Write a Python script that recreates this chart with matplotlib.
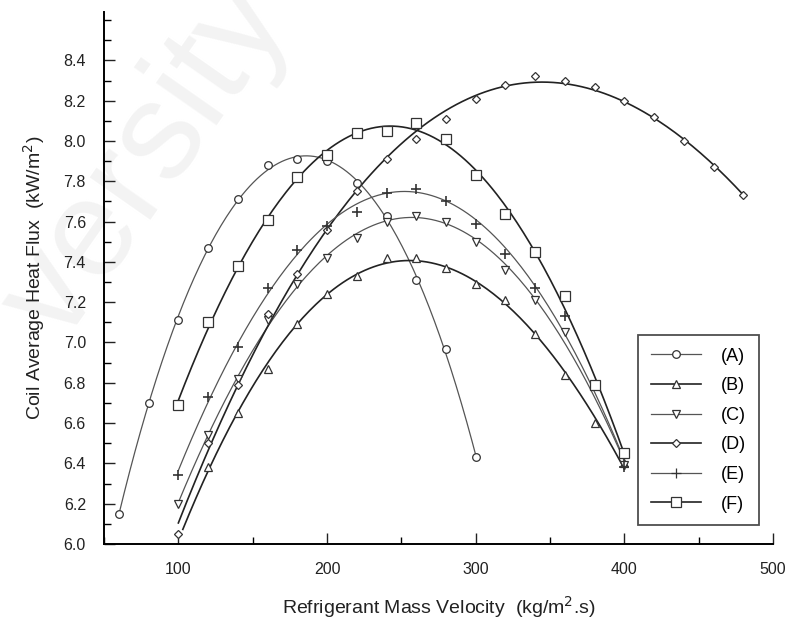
import numpy as np
import matplotlib
matplotlib.use("Agg")
import matplotlib.pyplot as plt
from matplotlib.lines import Line2D
from matplotlib.ticker import MultipleLocator

plt.rcParams['font.family'] = ['Liberation Sans', 'DejaVu Sans']

# data (kg/m2.s vs kW/m2)
a_x = [60, 80, 100, 120, 140, 160, 180, 200, 220, 240, 260, 280, 300]
a_y = [6.15, 6.70, 7.11, 7.47, 7.71, 7.88, 7.91, 7.90, 7.79, 7.63, 7.31, 6.97, 6.43]

b_x = [120, 140, 160, 180, 200, 220, 240, 260, 280, 300, 320, 340, 360, 380, 400]
b_y = [6.38, 6.65, 6.87, 7.09, 7.24, 7.33, 7.42, 7.42, 7.37, 7.29, 7.21, 7.04, 6.84, 6.60, 6.40]

c_x = [100, 120, 140, 160, 180, 200, 220, 240, 260, 280, 300, 320, 340, 360, 400]
c_y = [6.20, 6.54, 6.82, 7.11, 7.29, 7.42, 7.52, 7.60, 7.63, 7.60, 7.50, 7.36, 7.21, 7.05, 6.39]

d_x = [100, 120, 140, 160, 180, 200, 220, 240, 260, 280, 300, 320, 340, 360, 380, 400, 420, 440, 460, 480]
d_y = [6.05, 6.50, 6.79, 7.14, 7.34, 7.56, 7.75, 7.91, 8.01, 8.11, 8.21, 8.28, 8.32, 8.30, 8.27, 8.20, 8.12, 8.00, 7.87, 7.73]

e_x = [100, 120, 140, 160, 180, 200, 220, 240, 260, 280, 300, 320, 340, 360, 400]
e_y = [6.34, 6.73, 6.98, 7.27, 7.46, 7.58, 7.65, 7.74, 7.76, 7.70, 7.59, 7.44, 7.27, 7.13, 6.38]

f_x = [100, 120, 140, 160, 180, 200, 220, 240, 260, 280, 300, 320, 340, 360, 380, 400]
f_y = [6.69, 7.10, 7.38, 7.61, 7.82, 7.93, 8.04, 8.05, 8.09, 8.01, 7.83, 7.64, 7.45, 7.23, 6.79, 6.45]

labels = ['(A)', '(B)', '(C)', '(D)', '(E)', '(F)']

series = [
    # x, y, marker, size, line colour, line width, fit degree, line start
    (a_x, a_y, 'o', 5.5, '#555555', 0.9, 4, 60),
    (b_x, b_y, '^', 6, '#222222', 1.2, 3, 103),
    (c_x, c_y, 'v', 6, '#555555', 0.9, 3, 100),
    (d_x, d_y, 'D', 4, '#222222', 1.2, 3, 100),
    (e_x, e_y, '+', 7, '#555555', 0.9, 3, 100),
    (f_x, f_y, 's', 6.5, '#222222', 1.2, 3, 100),
]

fig = plt.figure(figsize=(7.97, 6.22), dpi=100)
ax = fig.add_axes([0.1305, 0.1254, 0.8395, 0.8553])
ax.patch.set_alpha(0)
ax.set_zorder(1)

# faint watermark in the reference, kept behind the axes
fig.text(0.185, 0.74, 'versity', fontsize=100, rotation=55, color='#f3f3f3',
         ha='center', va='center', zorder=-5)

handles = []
for (xs, ys, mk, ms, col, lw, deg, x0), lab in zip(series, labels):
    # smooth fitted curve like the original figure
    coef = np.polyfit(xs, ys, deg)
    xx = np.linspace(x0, max(xs), 200)
    ax.plot(xx, np.polyval(coef, xx), color=col, lw=lw, zorder=2)
    mfc = 'none' if mk == '+' else 'white'
    ax.plot(xs, ys, linestyle='none', marker=mk, ms=ms, mfc=mfc,
            mec='#333333', mew=0.9 if mk != '+' else 1.2, zorder=3)
    handles.append(Line2D([], [], color=col, lw=lw, marker=mk, ms=ms,
                          mfc=mfc, mec='#333333', mew=0.9))

ax.set_xlim(50, 500)
ax.set_ylim(6.0, 8.64)
ax.xaxis.set_minor_locator(MultipleLocator(50))
ax.yaxis.set_minor_locator(MultipleLocator(0.1))
ax.set_yticks(np.arange(6.0, 8.41, 0.2))
ax.set_yticklabels([f'{v:.1f}' for v in np.arange(6.0, 8.41, 0.2)])
ax.set_xticks([100, 200, 300, 400, 500])

for s in ['top', 'right']:
    ax.spines[s].set_visible(False)
for s in ['left', 'bottom']:
    ax.spines[s].set_linewidth(1.4)

ax.tick_params(which='major', direction='in', length=8, width=1, labelsize=11.5, pad=13, colors='#222222')
ax.tick_params(which='minor', direction='in', length=5, width=1)

ax.set_xlabel('Refrigerant Mass Velocity  (kg/m$^2$.s)', fontsize=14, labelpad=12, color='#222222')
ax.set_ylabel('Coil Average Heat Flux  (kW/m$^2$)', fontsize=14, labelpad=12, color='#222222')

leg = ax.legend(handles, labels, loc='lower right', bbox_to_anchor=(0.992, 0.018),
                frameon=True, fancybox=False, edgecolor='#222222', fontsize=13,
                handlelength=2.8, handletextpad=1.1, labelspacing=0.7,
                borderpad=0.7, numpoints=1)
leg.get_frame().set_linewidth(1.3)

fig.savefig('out.png', dpi=100)
